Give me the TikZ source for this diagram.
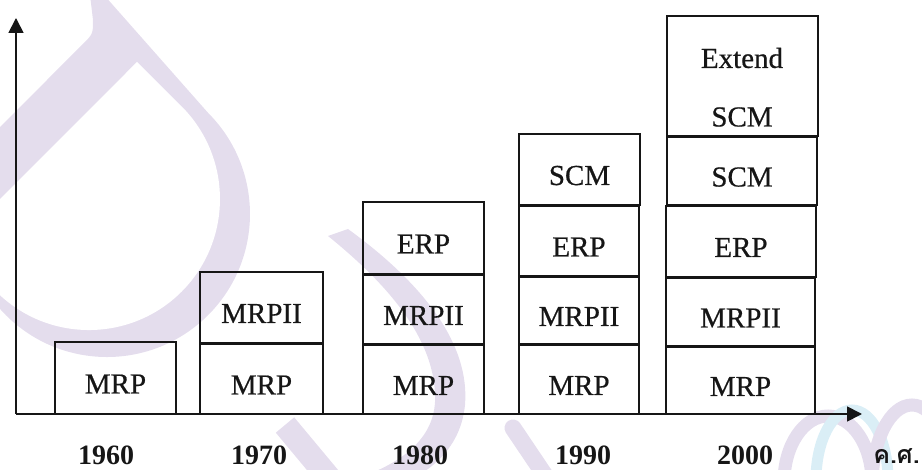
\documentclass[tikz,border=0pt]{standalone}
\usepackage{fontspec}
\setmainfont{Liberation Serif}
\newfontfamily\heavyserif[FakeBold=0.6]{Liberation Serif}
\newfontfamily\thaifont[Script=Thai]{Loma}
\usetikzlibrary{arrows.meta}

\definecolor{lav}{RGB}{228,221,237}
\definecolor{skyw}{RGB}{218,238,246}
\definecolor{ink}{RGB}{22,22,22}

% one stacked box: name, left, top, right, bottom, text
\newcommand\tlbox[6]{%
  \node[box, minimum width={(#4-#2)*1pt}, minimum height={(#5-#3)*1pt}]
    (#1) at ({(#2+#4)/2},{(#3+#5)/2}) {#6};}

\begin{document}
\begin{tikzpicture}[x=1pt, y=-1pt,
  box/.style={draw=ink, line width=1.7pt, rectangle, inner sep=0pt,
    text height=31pt, text depth=0pt, text=ink,
    font=\heavyserif\fontsize{29}{32}\selectfont},
  yearlbl/.style={inner sep=0pt, text=ink, text depth=0pt,
    font=\fontsize{28}{32}\selectfont\bfseries},
  axis/.style={draw=ink, line width=1.8pt,
    -{Triangle[length=15pt,width=15pt]}},
  boxtext/.style={inner sep=0pt, text=ink,
    font=\heavyserif\fontsize{29}{32}\selectfont}]

\useasboundingbox (0,0) rectangle (922,470);

% ---- faint background logo ----
\begin{scope}
  \clip (0,0) rectangle (922,470);
  % large drop-shaped ring
  \fill[lav] (90,-5) -- (104,-5) -- (208.1,112.9)
    arc[start angle=-45, end angle=208.6, radius=143]
    -- (82,45) .. controls (93,34) .. (93,20) -- cycle;
  \fill[white] (137,62) -- (181.6,106.4)
    arc[start angle=-45, end angle=163.7, radius=131] -- cycle;
  % second curved stroke
  \fill[lav] (328,236) -- (348,229)
    .. controls (425,285) and (470,345) .. (465,405)
    .. controls (460,455) and (420,482) .. (370,495)
    -- (352,480)
    .. controls (400,465) and (433,440) .. (435,402)
    .. controls (437,345) and (395,290) .. (328,236) -- cycle;
  \draw[lav, line width=24pt] (285,425) -- (335,485);
  \draw[lav, line width=17pt, line cap=round] (513,428) -- (548,480);
  % small rings at the lower right
  \draw[lav, line width=13pt] (828,482) ellipse [x radius=44, y radius=66];
  \draw[skyw, line width=11pt] (852,480) ellipse [x radius=36, y radius=70];
  \draw[lav, line width=13pt] (912,485) ellipse [x radius=40, y radius=80];
\end{scope}

% ---- axes ----
\coordinate (origin) at (16,414);
\coordinate (ytip) at (16,18);
\coordinate (xtip) at (862,414);
\draw[axis] (origin) -- (ytip);
\draw[axis] (origin) -- (xtip);

% ---- 1960 ----
\tlbox{a1}{55}{342}{176}{414}{MRP}
% ---- 1970 ----
\tlbox{b1}{200}{344}{323}{414}{MRP}
\tlbox{b2}{200}{272}{323}{343}{MRPII}
% ---- 1980 ----
\tlbox{c1}{363}{345}{484}{414}{MRP}
\tlbox{c2}{363}{275}{484}{344}{MRPII}
\tlbox{c3}{363}{202}{484}{274}{ERP}
% ---- 1990 ----
\tlbox{d1}{519}{345}{639}{414}{MRP}
\tlbox{d2}{519}{277}{639}{344}{MRPII}
\tlbox{d3}{519}{206}{639}{276}{ERP}
\tlbox{d4}{519}{134}{640}{205}{SCM}
% ---- 2000 ----
\tlbox{e1}{666}{347}{815}{414}{MRP}
\tlbox{e2}{666}{278}{815}{346}{MRPII}
\tlbox{e3}{666}{206}{816}{277}{ERP}
\tlbox{e4}{667}{137}{817}{205}{SCM}
\tlbox{e5}{667}{16}{818}{136}{}
\node[boxtext] (e5a) at (742,58) {Extend};
\node[boxtext] (e5b) at (742,117) {SCM};

% ---- year labels ----
\node[yearlbl] (y1960) at (106,455) {1960};
\node[yearlbl] (y1970) at (259,455) {1970};
\node[yearlbl] (y1980) at (420,455) {1980};
\node[yearlbl] (y1990) at (583,455) {1990};
\node[yearlbl] (y2000) at (745,455) {2000};
\node[inner sep=0pt, text=ink, anchor=east,
  font=\thaifont\bfseries\fontsize{25}{28}\selectfont] (era) at (920,456) {ค.ศ.};
\end{tikzpicture}
\end{document}
